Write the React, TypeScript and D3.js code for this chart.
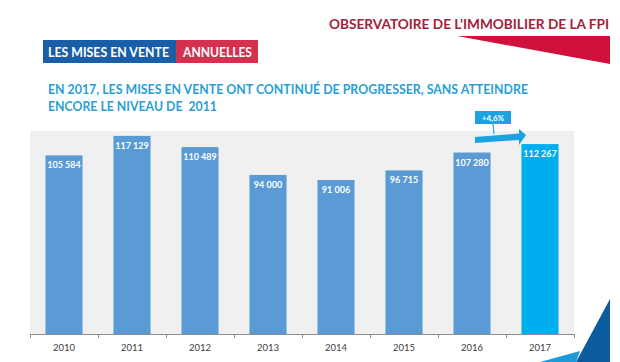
import React from "react";
import * as d3 from "d3";

const years = ["2010", "2011", "2012", "2013", "2014", "2015", "2016", "2017"];
const values = [105584, 117129, 110489, 94000, 91006, 96715, 107280, 112267];
const highlightYear = "2017";
const growthLabel = "+4,6%";
const titleText = "OBSERVATOIRE DE L\u2019IMMOBILIER DE LA FPI";
const tagBlue = "LES MISES EN VENTE";
const tagRed = "ANNUELLES";
const subtitleLines = [
  "EN 2017, LES MISES EN VENTE ONT CONTINUÉ DE PROGRESSER, SANS ATTEINDRE",
  "ENCORE LE NIVEAU DE  2011",
];

const W = 620;
const H = 362;
const plot = { left: 30, right: 574, top: 131, bottom: 334 };
const font = "Lato, 'Open Sans', sans-serif";

export default function App() {
  const x = d3
    .scaleBand<string>()
    .domain(years)
    .range([plot.left, plot.right])
    .paddingInner(0.455)
    .paddingOuter(0.2275);
  const y = d3.scaleLinear().domain([0, 120000]).range([plot.bottom, plot.top]);
  const fmt = (v: number) => d3.format(",")(v).replace(/,/g, " ");
  const step = (plot.right - plot.left) / years.length;
  const tickXs = d3.range(years.length + 1).map((i) => plot.left + i * step);

  return (
    <svg
      width={W}
      height={H}
      style={{ position: "absolute", left: 0, top: 0, background: "#fff" }}
      fontFamily={font}
    >
      {/* header */}
      <text x={609} y={29} textAnchor="end" fontSize={13.5} fontWeight={700} fill="#a3213a"
        textLength={280} lengthAdjust="spacingAndGlyphs">
        {titleText}
      </text>
      <polygon points="457,36 610,36 610,64" fill="#d0113b" />

      <rect x={43} y={40} width={133} height={23} fill="#1a5ea8" />
      <rect x={176} y={40} width={82} height={23} fill="#d6304f" />
      <text x={48} y={56.5} fontSize={13} fontWeight={700} fill="#fff" textLength={121} lengthAdjust="spacingAndGlyphs">
        {tagBlue}
      </text>
      <text x={183} y={56.5} fontSize={13} fontWeight={700} fill="#fff" textLength={69} lengthAdjust="spacingAndGlyphs">
        {tagRed}
      </text>

      {subtitleLines.map((t, i) => (
        <text key={i} x={48} y={93.5 + i * 17} fontSize={13} fontWeight={700} fill="#2a9fd6"
          style={{ whiteSpace: "pre" }}
          textLength={i === 0 ? 480 : 169} lengthAdjust="spacingAndGlyphs">
          {t}
        </text>
      ))}

      {/* plot background */}
      <rect x={plot.left} y={plot.top} width={plot.right - plot.left} height={plot.bottom - plot.top} fill="#f0f0f0" />

      {/* bars */}
      {years.map((yr, i) => (
        <g key={yr}>
          <rect
            x={x(yr)}
            y={y(values[i])}
            width={x.bandwidth()}
            height={plot.bottom - y(values[i])}
            fill={yr === highlightYear ? "#00aeef" : "#5b9bd5"}
          />
          <text
            x={(x(yr) as number) + x.bandwidth() / 2}
            y={y(values[i]) + 13}
            textAnchor="middle"
            fontSize={9}
            fontWeight={700}
            fill="#fff"
          >
            {fmt(values[i])}
          </text>
          <text
            x={(x(yr) as number) + x.bandwidth() / 2}
            y={350.5}
            textAnchor="middle"
            fontSize={9.5}
            fill="#404040"
          >
            {yr}
          </text>
        </g>
      ))}

      {/* axis */}
      <line x1={plot.left} x2={plot.right} y1={plot.bottom + 0.5} y2={plot.bottom + 0.5} stroke="#8c8c8c" strokeWidth={1} />
      {tickXs.map((tx, i) => (
        <line key={i} x1={tx + 0.5} x2={tx + 0.5} y1={plot.bottom} y2={plot.bottom + 4} stroke="#8c8c8c" strokeWidth={1} />
      ))}

      {/* growth annotation */}
      <line x1={493} y1={124} x2={494} y2={134} stroke="#1aa3e0" strokeWidth={1.2} />
      <polygon points="475,137 519,133.5 519,129 526,135 519,145 519,140 475,143" fill="#1aa3e0" />
      <rect x={475} y={111} width={36} height={13} fill="#1aa3e0" />
      <text x={493} y={120.5} textAnchor="middle" fontSize={8} fontWeight={700} fill="#fff">
        {growthLabel}
      </text>

      {/* decorative corner */}
      <polygon points="540,362 580,351 576,362" fill="#1e9ad8" />
      <polygon points="610,299 610,362 576,362" fill="#0b5c9e" />
    </svg>
  );
}
